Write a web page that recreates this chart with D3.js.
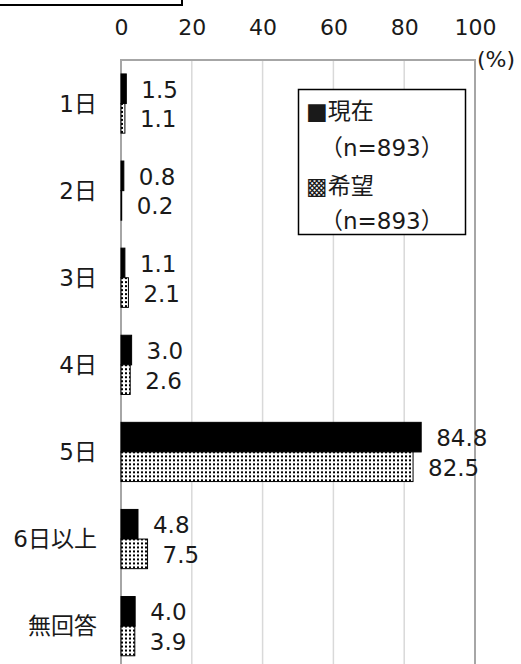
<!DOCTYPE html>
<html><head><meta charset="utf-8">
<script src="https://cdn.jsdelivr.net/npm/d3@7"></script>
<style>
html,body{margin:0;padding:0;background:#fff;}
svg{display:block;font-family:"DejaVu Sans","Noto Sans CJK JP",sans-serif;}
</style></head>
<body><svg id="c" width="521" height="664"></svg>
<script>
const categories = ["1日","2日","3日","4日","5日","6日以上","無回答"];
const seriesNames = ["現在","希望"];
const current = [1.5,0.8,1.1,3.0,84.8,4.8,4.0];
const desired = [1.1,0.2,2.1,2.6,82.5,7.5,3.9];
const tickValues = [0,20,40,60,80,100];
const legendLabels = ["■現在","（n=893）","▩希望","（n=893）"];

const svg = d3.select("#c");
const defs = svg.append("defs");
const pat = defs.append("pattern").attr("id","dots").attr("patternUnits","userSpaceOnUse")
  .attr("width",4).attr("height",4);
pat.append("rect").attr("width",4).attr("height",4).attr("fill","#fff");
pat.append("rect").attr("x",1).attr("y",1).attr("width",2).attr("height",2).attr("fill","#000");

const x = d3.scaleLinear().domain([0,100]).range([121,475]);
const y = d3.scaleBand().domain(categories).range([60,669.7]).paddingInner(0.32).paddingOuter(0.16);
const y1 = d3.scaleBand().domain(seriesNames).range([0,y.bandwidth()]);

// top partial box
svg.append("rect").attr("x",-5).attr("y",-5).attr("width",187).attr("height",10)
  .attr("fill","none").attr("stroke","#000").attr("stroke-width",2);

// gridlines
svg.append("g").selectAll("line").data(tickValues.filter(v=>v>0&&v<100)).join("line")
  .attr("x1",d=>x(d)).attr("x2",d=>x(d)).attr("y1",60).attr("y2",670)
  .attr("stroke","#d9d9d9").attr("stroke-width",1.5);
// frame
svg.append("path").attr("d",`M${x(0)},670V60H${x(100)}V670`)
  .attr("fill","none").attr("stroke","#a6a6a6").attr("stroke-width",2);

// top axis
const ax = svg.append("g").attr("transform","translate(0,60)")
  .call(d3.axisTop(x).tickValues(tickValues).tickSize(0).tickPadding(25));
ax.select(".domain").remove();
ax.selectAll("text").attr("font-size",22).attr("font-family","DejaVu Sans").attr("fill","#1a1a1a");
svg.append("text").attr("x",477).attr("y",59).attr("dominant-baseline","central")
  .attr("font-size",22).attr("fill","#1a1a1a").text("(%)");

// category labels
svg.append("g").selectAll("text").data(categories).join("text")
  .attr("x",97).attr("y",d=>y(d)+y.bandwidth()/2).attr("text-anchor","end")
  .attr("dominant-baseline","central").attr("font-size",23).attr("fill","#1a1a1a").text(d=>d);

const rows = categories.map((c,i)=>({c, vals:[{s:"現在",v:current[i]},{s:"希望",v:desired[i]}]}));
const g = svg.append("g").selectAll("g").data(rows).join("g")
  .attr("transform",d=>`translate(0,${y(d.c)})`);
g.selectAll("rect").data(d=>d.vals).join("rect")
  .attr("x",x(0)).attr("y",d=>y1(d.s)).attr("width",d=>x(d.v)-x(0)).attr("height",y1.bandwidth())
  .attr("fill",d=>d.s==="現在"?"#000":"url(#dots)")
  .attr("stroke","#000").attr("stroke-width",1);
g.selectAll("text").data(d=>d.vals).join("text")
  .attr("x",d=>x(d.v)+15).attr("y",d=>y1(d.s)+y1.bandwidth()/2+1)
  .attr("dominant-baseline","central").attr("font-size",23).attr("fill","#1a1a1a")
  .text(d=>d.v.toFixed(1));

// legend
svg.append("rect").attr("x",298.5).attr("y",89.5).attr("width",167).attr("height",145)
  .attr("fill","#fff").attr("stroke","#000").attr("stroke-width",1.5);
const ly = [111,148,186,221];
const lx = [306,320,306,320];
svg.append("g").selectAll("text").data(legendLabels).join("text")
  .attr("x",(d,i)=>lx[i]).attr("y",(d,i)=>ly[i]).attr("dominant-baseline","central")
  .attr("font-size",23).attr("fill","#1a1a1a")
  .text(d=>d);
</script></body></html>
